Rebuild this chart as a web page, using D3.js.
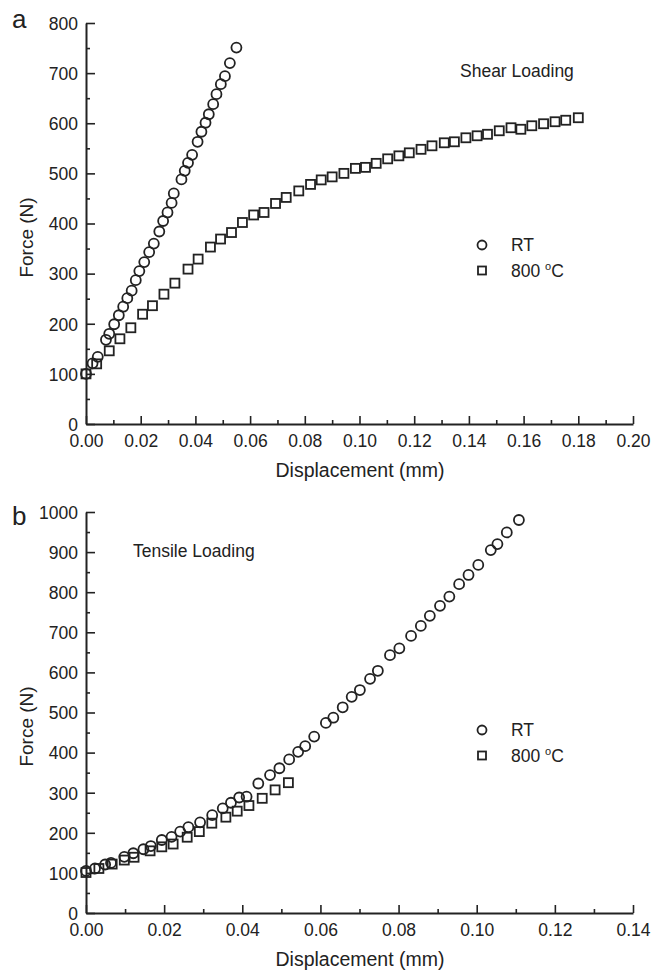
<!DOCTYPE html>
<html>
<head>
<meta charset="utf-8">
<script src="https://cdn.jsdelivr.net/npm/d3@7"></script>
<style>
  body { margin: 0; background: #fff; }
  svg text { font-family: "Liberation Sans", Arial, sans-serif; fill: #222; }
</style>
</head>
<body>
<div id="chart"></div>
<script>
// shear loading (panel a)
var shearRT_x = [0.000,0.0024,0.0043,0.0073,0.0085,0.0103,0.0120,0.0136,0.0151,0.0167,0.0182,0.0195,0.0213,0.0231,0.0248,0.0268,0.0282,0.0298,0.0313,0.0321,0.0349,0.0361,0.0373,0.0388,0.0408,0.0422,0.0437,0.0449,0.0465,0.0477,0.0493,0.0508,0.0526,0.0550];
var shearRT_f = [100,121,134,168,180,199,217,234,251,266,287,305,323,343,360,384,405,422,441,460,488,505,521,537,563,583,601,618,638,658,678,694,720,751];
var shear800_x = [0,0.0039,0.0085,0.0124,0.0164,0.0207,0.0243,0.0285,0.0325,0.0373,0.0410,0.0455,0.0492,0.0532,0.0572,0.0613,0.0651,0.0693,0.0732,0.0778,0.0821,0.0860,0.0900,0.0943,0.0985,0.1022,0.1061,0.1103,0.1144,0.1182,0.1225,0.1265,0.1310,0.1347,0.1389,0.1430,0.1468,0.1511,0.1554,0.1590,0.1630,0.1673,0.1715,0.1754,0.1800];
var shear800_f = [100,120,146,170,192,219,236,259,281,309,329,353,369,382,402,417,422,440,452,465,478,487,493,500,510,512,520,529,535,541,548,555,561,563,571,575,578,585,591,588,595,599,603,606,611];

// tensile loading (panel b)
var tensRT_x = [0,0.0023,0.0049,0.0064,0.0098,0.0121,0.0147,0.0166,0.0194,0.0219,0.0241,0.0262,0.0292,0.0323,0.0350,0.0371,0.0392,0.0411,0.0441,0.0471,0.0495,0.0520,0.0543,0.0561,0.0584,0.0614,0.0633,0.0657,0.0680,0.0701,0.0727,0.0747,0.0778,0.0802,0.0832,0.0857,0.0880,0.0906,0.0930,0.0955,0.0979,0.1004,0.1036,0.1053,0.1077,0.1108];
var tensRT_f = [105,111,121,125,140,149,159,167,182,190,203,214,226,244,261,275,288,290,323,344,361,383,402,416,440,474,487,513,539,556,584,604,643,660,691,716,741,766,789,820,843,868,905,920,949,980];
var tens800_x = [0,0.0033,0.0067,0.0098,0.0123,0.0164,0.0194,0.0223,0.0259,0.0290,0.0322,0.0358,0.0387,0.0417,0.0451,0.0484,0.0518];
var tens800_f = [101,111,122,132,139,155,165,172,189,203,224,239,254,268,286,307,325];

var xTicksA = [0,0.02,0.04,0.06,0.08,0.10,0.12,0.14,0.16,0.18,0.20];
var yTicksA = [0,100,200,300,400,500,600,700,800];
var xTicksB = [0,0.02,0.04,0.06,0.08,0.10,0.12,0.14];
var yTicksB = [0,100,200,300,400,500,600,700,800,900,1000];
var legendLabels = ["RT", "800"];

var ink = "#222";

var svg = d3.select("#chart").append("svg")
    .attr("width", 652)
    .attr("height", 971);

function zip(xs, ys) {
  return xs.map(function(x, i) { return {x: x, f: ys[i]}; });
}

function drawPanel(p) {
  var x = d3.scaleLinear().domain([0, p.xMax]).range([86, 633]);
  var y = d3.scaleLinear().domain([0, p.yMax]).range([p.bottom, p.top]);

  var g = svg.append("g");

  // minor ticks first
  g.append("g")
    .attr("transform", "translate(0," + p.bottom + ")")
    .call(d3.axisBottom(x).tickValues(d3.range(0.01, p.xMax, 0.02)).tickSize(-4).tickFormat(""))
    .call(function(a) { a.select(".domain").remove(); });
  g.append("g")
    .attr("transform", "translate(86,0)")
    .call(d3.axisLeft(y).tickValues(d3.range(50, p.yMax, 100)).tickSize(-4).tickFormat(""))
    .call(function(a) { a.select(".domain").remove(); });

  var xa = g.append("g")
    .attr("transform", "translate(0," + p.bottom + ")")
    .call(d3.axisBottom(x).tickValues(p.xTicks).tickSizeInner(-8).tickSizeOuter(0).tickPadding(11)
      .tickFormat(d3.format(".2f")));
  var ya = g.append("g")
    .attr("transform", "translate(86,0)")
    .call(d3.axisLeft(y).tickValues(p.yTicks).tickSizeInner(-9).tickSizeOuter(0).tickPadding(8)
      .tickFormat(d3.format("d")));

  g.selectAll(".domain").attr("stroke", ink).attr("stroke-width", 2);
  g.selectAll(".tick line").attr("stroke", ink).attr("stroke-width", 1.6);
  g.selectAll(".tick text").attr("font-size", 17.5).attr("fill", ink);
  ya.selectAll(".tick text").attr("dy", "0.36em");

  // axis titles
  g.append("text")
    .attr("x", 360).attr("y", p.bottom + 53)
    .attr("text-anchor", "middle").attr("font-size", 19.5)
    .text("Displacement (mm)");
  g.append("text")
    .attr("transform", "translate(33," + ((p.top + p.bottom) / 2 + 14) + ") rotate(-90)")
    .attr("text-anchor", "middle").attr("font-size", 19)
    .text("Force (N)");

  // panel letter
  g.append("text")
    .attr("x", 12).attr("y", p.top + p.letterDy)
    .attr("font-size", 26)
    .text(p.letter);

  // loading label
  g.append("text")
    .attr("x", p.labelX).attr("y", p.labelY)
    .attr("font-size", 17.5)
    .text(p.label);

  // markers
  g.append("g").selectAll("rect")
    .data(zip(p.sqX, p.sqF))
    .enter().append("rect")
    .attr("x", function(d) { return x(d.x) - 4.5; })
    .attr("y", function(d) { return y(d.f) - 4.5; })
    .attr("width", 9).attr("height", 9)
    .attr("fill", "none").attr("stroke", ink).attr("stroke-width", 1.8);

  g.append("g").selectAll("circle")
    .data(zip(p.ciX, p.ciF))
    .enter().append("circle")
    .attr("cx", function(d) { return x(d.x); })
    .attr("cy", function(d) { return y(d.f); })
    .attr("r", 5)
    .attr("fill", "none").attr("stroke", ink).attr("stroke-width", 1.8);

  // legend
  var lg = g.append("g");
  lg.append("circle")
    .attr("cx", 482).attr("cy", p.legY).attr("r", 4.5)
    .attr("fill", "none").attr("stroke", ink).attr("stroke-width", 1.8);
  lg.append("rect")
    .attr("x", 478).attr("y", p.legY + 21.5).attr("width", 8).attr("height", 8)
    .attr("fill", "none").attr("stroke", ink).attr("stroke-width", 1.8);
  lg.append("text")
    .attr("x", 511).attr("y", p.legY + 6).attr("font-size", 17.5)
    .text(legendLabels[0]);
  var t = lg.append("text")
    .attr("x", 511).attr("y", p.legY + 32).attr("font-size", 17.5);
  t.append("tspan").text(legendLabels[1] + " ");
  t.append("tspan").attr("font-size", 11).attr("dy", -7).text("o");
  t.append("tspan").attr("dy", 7).text("C");
}

drawPanel({
  top: 23, bottom: 424, xMax: 0.20, yMax: 800,
  xTicks: xTicksA, yTicks: yTicksA,
  letter: "a", letterDy: 5,
  label: "Shear Loading", labelX: 460, labelY: 77,
  ciX: shearRT_x, ciF: shearRT_f, sqX: shear800_x, sqF: shear800_f,
  legY: 245
});

drawPanel({
  top: 512, bottom: 913, xMax: 0.14, yMax: 1000,
  xTicks: xTicksB, yTicks: yTicksB,
  letter: "b", letterDy: 13,
  label: "Tensile Loading", labelX: 133, labelY: 557,
  ciX: tensRT_x, ciF: tensRT_f, sqX: tens800_x, sqF: tens800_f,
  legY: 730
});
</script>
</body>
</html>
